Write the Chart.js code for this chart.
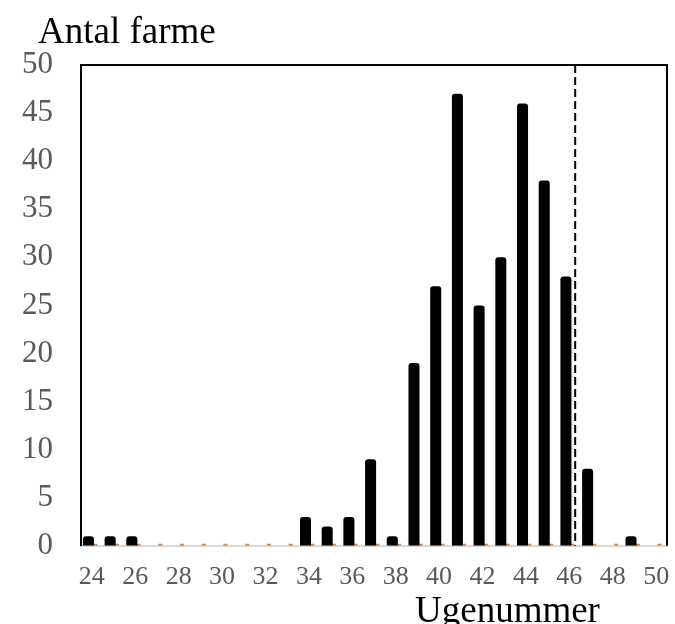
<!DOCTYPE html>
<html>
<head>
<meta charset="utf-8">
<script src="https://cdn.jsdelivr.net/npm/chart.js@4"></script>
<style>
  body { margin: 0; background: #fff; }
  .wrap { position: relative; width: 675px; height: 624px; overflow: hidden; }
  .lbl { position: absolute; font-family: "Liberation Serif", "Times New Roman", serif; color: #000; white-space: nowrap; }
  .y-title { left: 38px; top: 12px; font-size: 37px; line-height: 37px; }
  .x-title { left: 415px; top: 591px; font-size: 37px; line-height: 37px; }
</style>
</head>
<body>
<div class="wrap">
  <canvas id="myChart" width="675" height="624"></canvas>
  <div class="lbl y-title">Antal farme</div>
  <div class="lbl x-title">Ugenummer</div>
</div>
<script>
// weeks on the x axis
const weeks = ['24','25','26','27','28','29','30','31','32','33','34','35','36','37',
               '38','39','40','41','42','43','44','45','46','47','48','49','50'];
// number of farms per week
const farms = [1,1,1,0,0,0,0,0,0,0,3,2,3,9,1,19,27,47,25,30,46,38,28,8,0,1,0];
// second (empty) series, only shows as small orange marks on the axis
const otherSeries = [0,0,0,0,0,0,0,0,0,0,0,0,0,0,0,0,0,0,0,0,0,0,0,0,0,0,0];
const xTickLabels = ['24','26','28','30','32','34','36','38','40','42','44','46','48','50'];
const yTicks = [0,5,10,15,20,25,30,35,40,45,50];
const cutoffWeek = 46.27; // dashed line position

const tickFont = { family: '"Liberation Serif", "Times New Roman", serif' };

// black frame on top/right + dashed cutoff line
const framePlugin = {
    id: 'frame',
    afterDatasetsDraw(chart) {
        const ctx = chart.ctx;
        const a = chart.chartArea;
        const xScale = chart.scales.x;
        ctx.save();
        ctx.strokeStyle = '#000';
        ctx.lineWidth = 2;
        ctx.beginPath();
        ctx.moveTo(a.left - 1, a.top);
        ctx.lineTo(a.right, a.top);
        ctx.lineTo(a.right, a.bottom);
        ctx.stroke();

        const x = xScale.getPixelForValue(cutoffWeek - Number(weeks[0]));
        ctx.setLineDash([8, 4]);
        ctx.beginPath();
        ctx.moveTo(x, a.top);
        ctx.lineTo(x, a.bottom);
        ctx.stroke();
        ctx.restore();
    }
};

const ctx = document.getElementById('myChart').getContext('2d');

new Chart(ctx, {
    type: 'bar',
    data: {
        labels: weeks,
        datasets: [{
            label: 'Antal farme',
            data: farms,
            backgroundColor: '#000',
            borderRadius: 3,
            categoryPercentage: 0.627,
            barPercentage: 1.62
        }, {
            label: '',
            data: otherSeries,
            backgroundColor: '#ED7D31',
            minBarLength: 2,
            categoryPercentage: 0.627,
            barPercentage: 0.6
        }]
    },
    options: {
        responsive: false,
        animation: false,
        layout: {
            padding: { top: 65, right: 8, bottom: 15, left: 0 }
        },
        plugins: {
            legend: { display: false },
            tooltip: { enabled: false },
            title: { display: false }
        },
        scales: {
            x: {
                afterFit: function (scale) {
                    scale.paddingLeft = 0;
                    scale.paddingRight = 0;
                },
                grid: { display: false, drawTicks: false },
                border: { display: true, color: '#d9d9d9', width: 2 },
                ticks: {
                    autoSkip: false,
                    maxRotation: 0,
                    padding: 16,
                    color: '#595959',
                    font: Object.assign({ size: 26 }, tickFont),
                    callback: function (value) {
                        const l = this.getLabelForValue(value);
                        return xTickLabels.includes(l) ? l : '';
                    }
                }
            },
            y: {
                min: yTicks[0],
                max: yTicks[yTicks.length - 1],
                afterFit: function (scale) { scale.width = 81; },
                grid: { display: false, drawTicks: false },
                border: { display: true, color: '#000', width: 2 },
                ticks: {
                    stepSize: yTicks[1] - yTicks[0],
                    padding: 28,
                    color: '#595959',
                    font: Object.assign({ size: 31 }, tickFont)
                }
            }
        }
    },
    plugins: [framePlugin]
});
</script>
</body>
</html>
